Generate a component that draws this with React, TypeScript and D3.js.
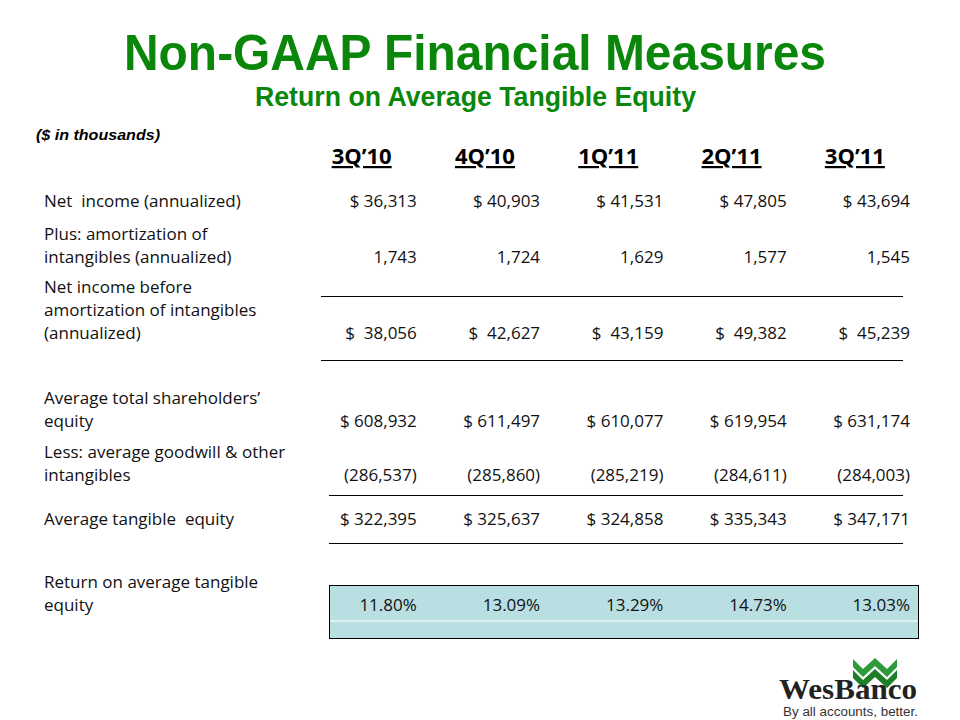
import React from "react";
import * as d3 from "d3";

const quarters = ["3Q\u201910", "4Q\u201910", "1Q\u201911", "2Q\u201911", "3Q\u201911"];
const netIncome = [36313, 40903, 41531, 47805, 43694];
const amortization = [1743, 1724, 1629, 1577, 1545];
const netIncomeBefore = [38056, 42627, 43159, 49382, 45239];
const avgEquity = [608932, 611497, 610077, 619954, 631174];
const avgGoodwill = [286537, 285860, 285219, 284611, 284003];
const avgTangible = [322395, 325637, 324858, 335343, 347171];
const rote = [11.8, 13.09, 13.29, 14.73, 13.03];

const GREEN = "#0a870a";
const BODY = "'Open Sans', Lato, 'Liberation Sans', sans-serif";

const comma = d3.format(",");
const dollar = (v: number) => `$ ${comma(v)}`;
const dollarWide = (v: number) => `$  ${comma(v)}`;
const plain = (v: number) => comma(v);
const paren = (v: number) => `(${comma(v)})`;
const pct = (v: number) => `${d3.format(".2f")(v)}%`;

type Row = { lines: string[]; firstY: number; values: number[]; fmt: (v: number) => string };

const rows: Row[] = [
  { lines: ["Net  income (annualized)"], firstY: 207, values: netIncome, fmt: dollar },
  { lines: ["Plus: amortization of", "intangibles (annualized)"], firstY: 240, values: amortization, fmt: plain },
  { lines: ["Net income before", "amortization of intangibles", "(annualized)"], firstY: 293, values: netIncomeBefore, fmt: dollarWide },
  { lines: ["Average total shareholders\u2019", "equity"], firstY: 404, values: avgEquity, fmt: dollar },
  { lines: ["Less: average goodwill & other", "intangibles"], firstY: 458, values: avgGoodwill, fmt: paren },
  { lines: ["Average tangible  equity"], firstY: 525, values: avgTangible, fmt: dollar },
  { lines: ["Return on average tangible", "equity"], firstY: 588, values: rote, fmt: pct },
];

export default function App() {
  const x = d3.scaleBand<string>().domain(quarters).range([294, 910.5]).paddingInner(0).paddingOuter(0);
  const bw = x.bandwidth();
  const lineH = 23;

  const rules = [
    { y: 296, x1: 321, x2: 903 },
    { y: 360, x1: 321, x2: 903 },
    { y: 495, x1: 329, x2: 903 },
    { y: 543, x1: 329, x2: 903 },
  ];

  return (
    <svg width={960} height={720} style={{ display: "block", position: "absolute", left: 0, top: 0 }}>
      <rect width={960} height={720} fill="#fff" />
      <text x={475} y={70} textAnchor="middle" fontFamily="'Liberation Sans', Arial, sans-serif" fontWeight="bold" fontSize={50} fill={GREEN} textLength={702} lengthAdjust="spacingAndGlyphs">
        Non-GAAP Financial Measures
      </text>
      <text x={475.5} y={106} textAnchor="middle" fontFamily="'Liberation Sans Narrow', 'Liberation Sans', Arial, sans-serif" fontWeight="bold" fontSize={27} fill={GREEN} textLength={441} lengthAdjust="spacingAndGlyphs">
        Return on Average Tangible Equity
      </text>
      <text x={36} y={140} fontFamily="'Liberation Sans', Arial, sans-serif" fontWeight="bold" fontStyle="italic" fontSize={15} fill="#000" textLength={124} lengthAdjust="spacingAndGlyphs">
        ($ in thousands)
      </text>

      {/* highlight box */}
      <rect x={329.5} y={585.5} width={589} height={53} fill="#b9dfe3" stroke="#000" strokeWidth={1} />
      <line x1={330} x2={918} y1={621} y2={621} stroke="#fff" strokeWidth={1} />

      {quarters.map((q) => (
        <text key={q} x={(x(q) as number) + bw / 2 + 6} y={164} textAnchor="middle" fontFamily={BODY} fontWeight="bold" fontSize={22} fill="#000" textDecoration="underline">
          {q}
        </text>
      ))}

      {rules.map((r, i) => (
        <line key={i} x1={r.x1} x2={r.x2} y1={r.y + 0.5} y2={r.y + 0.5} stroke="#000" strokeWidth={1} />
      ))}

      {rows.map((row, ri) => {
        const lastY = row.firstY + (row.lines.length - 1) * lineH;
        return (
          <g key={ri}>
            {row.lines.map((l, li) => (
              <text key={li} x={44} y={row.firstY + li * lineH} fontFamily={BODY} fontSize={17} fill="#111" style={{ whiteSpace: "pre" }}>
                {l}
              </text>
            ))}
            {row.values.map((v, vi) => (
              <text key={vi} x={(x(quarters[vi]) as number) + bw - 0.5} y={lastY} textAnchor="end" fontFamily={BODY} fontSize={17} fill="#111" style={{ whiteSpace: "pre" }}>
                {row.fmt(v)}
              </text>
            ))}
          </g>
        );
      })}

      {/* logo */}
      <g>
        <path d="M853,659 L863,669 L875,658 L887,669 L897,659 L897,667 L887,677 L875,666 L863,677 L853,667 Z" fill="#2e9a3a" />
        <path d="M853,670 L863,680 L875,669 L887,680 L897,670 L897,678 L887,688 L875,677 L863,688 L853,678 Z" fill="#1d7f2a" />
        <text x={848} y={699} textAnchor="middle" fontFamily="'Liberation Serif', 'DejaVu Serif', serif" fontWeight="bold" fontSize={29} fill="#222" textLength={138} lengthAdjust="spacingAndGlyphs">
          WesBanco
        </text>
        <text x={918} y={716} textAnchor="end" fontFamily="'Liberation Sans', Arial, sans-serif" fontSize={12.5} fill="#333" textLength={135} lengthAdjust="spacingAndGlyphs">
          By all accounts, better.
        </text>
      </g>
    </svg>
  );
}
